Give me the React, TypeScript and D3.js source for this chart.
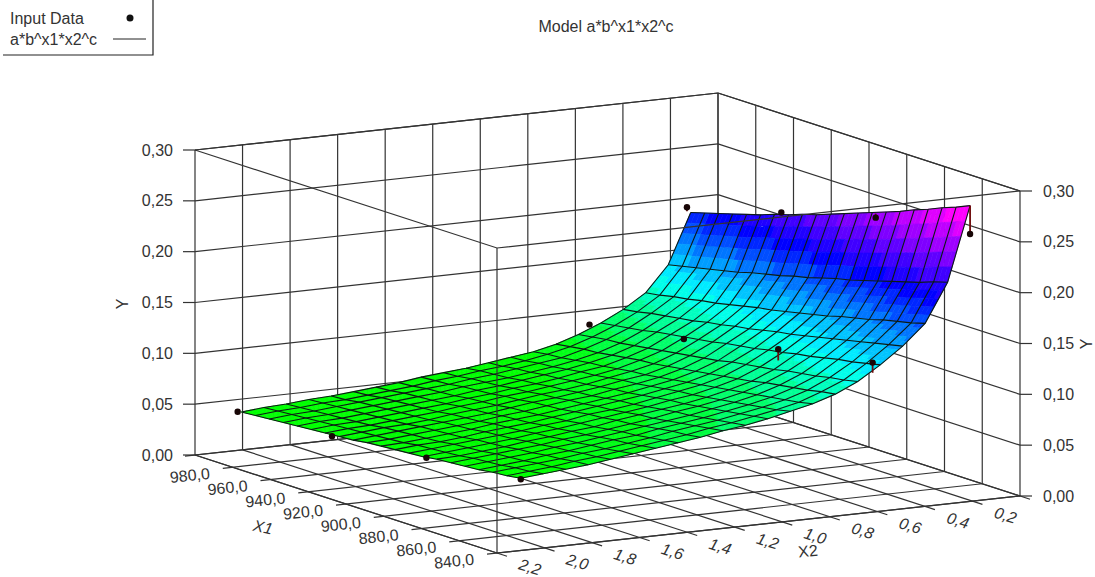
import * as React from 'react'
import {scaleLinear, line, interpolateRgb, range} from 'd3'

// values
const x1Ticks = [980, 960, 940, 920, 900, 880, 860, 840]
const x2Ticks = [2.2, 2.0, 1.8, 1.6, 1.4, 1.2, 1.0, 0.8, 0.6, 0.4, 0.2]
const x1Grid = [1000, 980, 960, 940, 920, 900, 880, 860, 840]
const x2Grid = [2.2, 2.0, 1.8, 1.6, 1.4, 1.2, 1.0, 0.8, 0.6, 0.4, 0.2, 0]
const yTicks = [0, 0.05, 0.1, 0.15, 0.2, 0.25, 0.3]

const inputX1 = [840, 890, 940, 990]
const inputX2 = [0.21, 0.62, 2.1]
const inputY = [
  [0.263, 0.249, 0.224, 0.199],
  [0.147, 0.13, 0.11, 0.094],
  [0.07, 0.061, 0.052, 0.046],
]
const fittedY = [
  [0.291, 0.253, 0.222, 0.195],
  [0.137, 0.119, 0.107, 0.092],
  [0.07, 0.06, 0.052, 0.046],
]

// surface mesh, rows follow meshX2, columns follow meshX1
const meshX1 = [840, 847.4, 854.8, 862.2, 869.6, 877, 884.4, 891.8, 899.2, 906.6, 914, 921.4, 928.8, 936.2, 943.6, 951, 958.4, 965.8, 973.2, 980.6, 988]
const meshX2 = [0.21, 0.3045, 0.399, 0.4935, 0.588, 0.6825, 0.777, 0.8715, 0.966, 1.0605, 1.155, 1.2495, 1.344, 1.4385, 1.533, 1.6275, 1.722, 1.8165, 1.911, 2.0055, 2.1]
const meshY = [
  [.291,.285,.280,.274,.269,.263,.258,.253,.248,.243,.238,.233,.229,.224,.220,.215,.211,.207,.203,.199,.195],
  [.218,.214,.209,.205,.201,.197,.193,.189,.186,.182,.178,.175,.171,.168,.165,.161,.158,.155,.152,.149,.146],
  [.180,.176,.173,.170,.166,.163,.160,.156,.153,.150,.147,.144,.142,.139,.136,.133,.131,.128,.126,.123,.121],
  [.160,.157,.154,.151,.148,.145,.142,.139,.136,.134,.131,.128,.126,.123,.121,.118,.116,.114,.112,.109,.107],
  [.144,.141,.138,.136,.133,.130,.128,.125,.123,.120,.118,.116,.113,.111,.109,.107,.105,.102,.100,.098,.096],
  [.130,.127,.125,.122,.120,.118,.115,.113,.111,.109,.106,.104,.102,.100,.098,.096,.094,.092,.091,.089,.087],
  [.120,.118,.115,.113,.111,.109,.106,.104,.102,.100,.098,.096,.094,.092,.091,.089,.087,.085,.084,.082,.080],
  [.113,.110,.108,.106,.104,.102,.100,.098,.096,.094,.092,.090,.088,.087,.085,.083,.082,.080,.078,.077,.075],
  [.108,.105,.103,.101,.099,.097,.095,.093,.092,.090,.088,.086,.085,.083,.081,.080,.078,.076,.075,.073,.072],
  [.103,.101,.099,.097,.095,.093,.091,.090,.088,.086,.084,.083,.081,.079,.078,.076,.075,.073,.072,.070,.069],
  [.099,.097,.095,.093,.091,.090,.088,.086,.084,.083,.081,.079,.078,.076,.075,.073,.072,.070,.069,.068,.066],
  [.096,.094,.092,.090,.088,.086,.085,.083,.081,.080,.078,.077,.075,.074,.072,.071,.069,.068,.067,.065,.064],
  [.092,.090,.089,.087,.085,.083,.082,.080,.079,.077,.075,.074,.073,.071,.070,.068,.067,.066,.064,.063,.062],
  [.089,.087,.085,.083,.082,.080,.078,.077,.075,.074,.072,.071,.070,.068,.067,.066,.064,.063,.062,.060,.059],
  [.086,.084,.082,.081,.079,.077,.076,.074,.073,.071,.070,.069,.067,.066,.065,.063,.062,.061,.060,.058,.057],
  [.083,.081,.079,.078,.076,.075,.073,.072,.070,.069,.068,.066,.065,.064,.062,.061,.060,.059,.058,.056,.055],
  [.080,.078,.077,.075,.074,.072,.071,.069,.068,.067,.065,.064,.063,.061,.060,.059,.058,.057,.056,.054,.053],
  [.077,.076,.074,.073,.071,.070,.068,.067,.066,.064,.063,.062,.061,.059,.058,.057,.056,.055,.054,.053,.052],
  [.075,.073,.072,.070,.069,.068,.066,.065,.064,.062,.061,.060,.059,.058,.056,.055,.054,.053,.052,.051,.050],
  [.073,.071,.070,.068,.067,.066,.064,.063,.062,.061,.059,.058,.057,.056,.055,.054,.053,.052,.051,.050,.049],
  [.071,.069,.068,.066,.065,.064,.063,.061,.060,.059,.058,.057,.055,.054,.053,.052,.051,.050,.049,.048,.047],
]

const X1_MIN = 840, X1_MAX = 1000, X2_MIN = 0, X2_MAX = 2.2, Y_MAX = 0.3

const alongX1 = scaleLinear().domain([X1_MIN, X1_MAX]).range([0, 1])
const alongX2 = scaleLinear().domain([X2_MAX, X2_MIN]).range([0, 1])
const heightY = scaleLinear().domain([0, Y_MAX]).range([0, 305])

// the box is drawn with no perspective, so every axis is one fixed screen direction
type Pt = [number, number]
const project = (x1: number, x2: number, y: number): Pt => {
  const a = alongX1(x1), b = alongX2(x2)
  return [497 - 302 * a + 523 * b, 553 - 98 * a - 57 * b - heightY(y)]
}

const path = line<Pt>()
const INK = '#333'
const TEXT = '#333'
const FONT = '"Liberation Sans", Arial, sans-serif'

// colours go green, cyan, blue, magenta and come in visible bands
const colorScale = scaleLinear<string>()
  .domain([0.075, 0.135, 0.2, 0.28])
  .range(['#00ff00', '#00ffff', '#0000ff', '#ff00ff'])
  .interpolate(interpolateRgb)
  .clamp(true)
const cellColor = (v: number) => colorScale(Math.round(v / 0.01) * 0.01)

const SUB_ROW = 5, SUB_COL = 3

function Grid() {
  const seg = (a: Pt, b: Pt, key: string) => (
    <path key={key} d={path([a, b]) as string} stroke={INK} strokeWidth={1.2} fill="none" />
  )
  return (
    <g>
      {x2Grid.map(v => seg(project(X1_MAX, v, 0), project(X1_MAX, v, Y_MAX), `lw${v}`))}
      {x1Grid.map(v => seg(project(v, X2_MIN, 0), project(v, X2_MIN, Y_MAX), `rw${v}`))}
      {yTicks.map(v => (
        <g key={`h${v}`}>
          {seg(project(X1_MAX, X2_MAX, v), project(X1_MAX, X2_MIN, v), 'a')}
          {seg(project(X1_MAX, X2_MIN, v), project(X1_MIN, X2_MIN, v), 'b')}
        </g>
      ))}
      {/* floor lines run past the front edges and end as the ticks */}
      {x1Ticks.concat(1000).map(v => seg(project(v, X2_MAX + 0.042, 0), project(v, X2_MIN, 0), `fa${v}`))}
      {x2Ticks.concat(0).map(v => seg(project(X1_MIN - 5.3, v, 0), project(X1_MAX, v, 0), `fb${v}`))}
      {seg(project(X1_MAX, X2_MAX, 0), project(X1_MIN, X2_MAX, 0), 'e1')}
      {seg(project(X1_MIN, X2_MAX, 0), project(X1_MIN, X2_MIN, 0), 'e2')}
    </g>
  )
}

function Surface() {
  // each mesh cell is shaded in smaller patches, the colour bands cross the mesh
  const patches: React.ReactElement[] = []
  const at = (r: number, c: number): [Pt, number] => {
    const r0 = Math.min(Math.floor(r), meshX2.length - 2), c0 = Math.min(Math.floor(c), meshX1.length - 2)
    const fr = r - r0, fc = c - c0
    const v =
      meshY[r0][c0] * (1 - fr) * (1 - fc) + meshY[r0][c0 + 1] * (1 - fr) * fc +
      meshY[r0 + 1][c0] * fr * (1 - fc) + meshY[r0 + 1][c0 + 1] * fr * fc
    const x1 = meshX1[c0] + (meshX1[c0 + 1] - meshX1[c0]) * fc
    const x2 = meshX2[r0] + (meshX2[r0 + 1] - meshX2[r0]) * fr
    return [project(x1, x2, v), v]
  }
  range(0, (meshX2.length - 1) * SUB_ROW).forEach(i => {
    range(0, (meshX1.length - 1) * SUB_COL).forEach(j => {
      const corners = [
        at(i / SUB_ROW, j / SUB_COL),
        at(i / SUB_ROW, (j + 1) / SUB_COL),
        at((i + 1) / SUB_ROW, (j + 1) / SUB_COL),
        at((i + 1) / SUB_ROW, j / SUB_COL),
      ]
      const mean = corners.reduce((s, c) => s + c[1], 0) / 4
      const fill = cellColor(mean)
      patches.push(
        <path
          key={`${i}-${j}`}
          d={(path(corners.map(c => c[0])) as string) + 'Z'}
          fill={fill}
          stroke={fill}
          strokeWidth={0.6}
        />
      )
    })
  })
  const rows = meshX2.map((x2, r) => meshX1.map((x1, c) => project(x1, x2, meshY[r][c])))
  const cols = meshX1.map((x1, c) => meshX2.map((x2, r) => project(x1, x2, meshY[r][c])))
  return (
    <g>
      {patches}
      <g fill="none" stroke="#0c1a14" strokeWidth={1.1}>
        {rows.map((pts, r) => <path key={`r${r}`} d={path(pts) as string} />)}
        {cols.map((pts, c) => <path key={`c${c}`} d={path(pts) as string} />)}
      </g>
    </g>
  )
}

function FrontFrame() {
  const frame = [
    project(X1_MAX, X2_MAX, Y_MAX),
    project(X1_MIN, X2_MAX, Y_MAX),
    project(X1_MIN, X2_MIN, Y_MAX),
  ]
  return (
    <g fill="none" stroke={INK} strokeWidth={1.2}>
      <path d={path(frame) as string} />
      <path d={path([project(X1_MIN, X2_MAX, 0), project(X1_MIN, X2_MAX, Y_MAX)]) as string} />
      <path d={path([project(X1_MAX, X2_MAX, Y_MAX), project(X1_MAX, X2_MIN, Y_MAX), project(X1_MIN, X2_MIN, Y_MAX)]) as string} />
    </g>
  )
}

function InputPoints() {
  return (
    <g>
      {inputX2.map((x2, r) =>
        inputX1.map((x1, c) => {
          const p = project(x1, x2, inputY[r][c])
          const f = project(x1, x2, fittedY[r][c])
          return (
            <g key={`${r}-${c}`}>
              <path d={path([p, f]) as string} stroke="#6e0c0c" strokeWidth={1.8} fill="none" />
              <circle cx={p[0]} cy={p[1]} r={3.2} fill="#180606" />
            </g>
          )
        })
      )}
    </g>
  )
}

function Axes() {
  const common = {fontFamily: FONT, fontSize: 16, fill: TEXT}
  const fmt = (v: number) => v.toFixed(2).replace('.', ',')
  return (
    <g {...common}>
      {yTicks.map(v => {
        const l = project(X1_MAX, X2_MAX, v)
        const r = project(X1_MIN, X2_MIN, v)
        return (
          <g key={v}>
            <path d={path([[l[0] - 12, l[1]], l]) as string} stroke={INK} strokeWidth={1.2} fill="none" />
            <path d={path([r, [r[0] + 12, r[1]]]) as string} stroke={INK} strokeWidth={1.2} fill="none" />
            <text x={l[0] - 22} y={l[1]} dy="0.35em" textAnchor="end">{fmt(v)}</text>
            <text x={r[0] + 23} y={r[1]} dy="0.35em">{fmt(v)}</text>
          </g>
        )
      })}
      {x1Ticks.map(v => {
        const p = project(v, X2_MAX, 0)
        const x = p[0] - 43, y = p[1] + 8
        return (
          <text key={v} transform={`translate(${x},${y}) rotate(-6)`} dy="0.35em" textAnchor="middle">
            {v.toFixed(1).replace('.', ',')}
          </text>
        )
      })}
      {x2Ticks.map(v => {
        const p = project(X1_MIN, v, 0)
        const x = p[0] + 33, y = p[1] + 14
        return (
          <text key={v} transform={`translate(${x},${y}) rotate(17)`} dy="0.35em" textAnchor="middle" fontStyle="italic">
            {v.toFixed(1).replace('.', ',')}
          </text>
        )
      })}
      <text transform="translate(263,527) rotate(12)" dy="0.35em" textAnchor="middle" fontStyle="italic">X1</text>
      <text transform="translate(808,551) rotate(-6)" dy="0.35em" textAnchor="middle">X2</text>
      <text transform="translate(122,304) rotate(-90)" dy="0.35em" textAnchor="middle">Y</text>
      <text transform="translate(1086,344) rotate(-90)" dy="0.35em" textAnchor="middle">Y</text>
    </g>
  )
}

function Legend() {
  return (
    <g fontFamily={FONT} fontSize={16} fill={TEXT}>
      <path d="M3,55H153V0" fill="none" stroke="#222" strokeWidth={1.2} />
      <text x={10} y={24}>Input Data</text>
      <text x={10} y={45}>a*b^x1*x2^c</text>
      <circle cx={130} cy={18} r={3.5} fill="#111" />
      <path d="M113,39H146" stroke="#222" fill="none" />
      <text x={606} y={32} textAnchor="middle">Model a*b^x1*x2^c</text>
    </g>
  )
}

export default function App() {
  return (
    <svg width={1095} height={577} style={{position: 'absolute', left: 0, top: 0, background: '#fff'}}>
      <Legend />
      <Grid />
      <Surface />
      <FrontFrame />
      <InputPoints />
      <Axes />
    </svg>
  )
}
